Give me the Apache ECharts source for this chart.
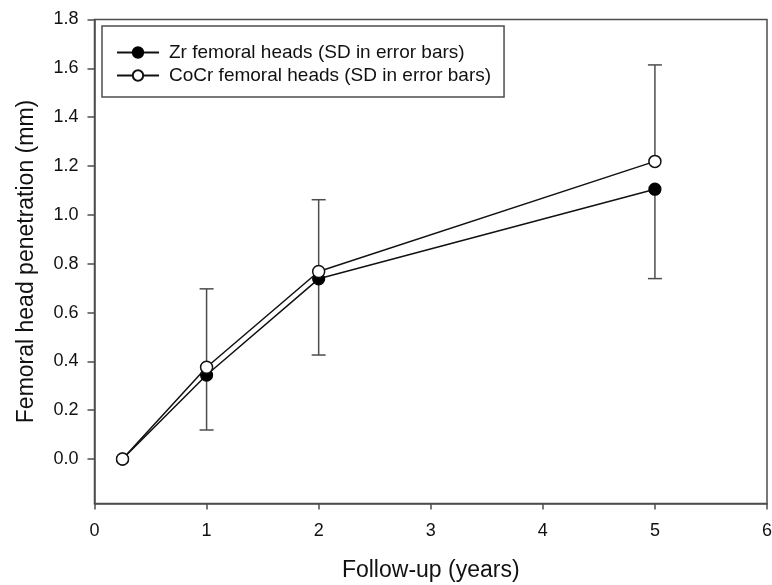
<!DOCTYPE html>
<html>
<head>
<meta charset="utf-8">
<script src="https://cdn.jsdelivr.net/npm/echarts@6/dist/echarts.min.js"></script>
<style>
  html, body { margin: 0; padding: 0; background: #fff; }
  #chart { width: 772px; height: 585px; }
</style>
</head>
<body>
<div id="chart"></div>
<script>
// Follow-up time points (years)
const years = [0.25, 1, 2, 5];
// Mean femoral head penetration (mm)
const zrMean = [0, 0.344, 0.738, 1.105];
const cocrMean = [0, 0.376, 0.768, 1.219];
// Standard deviations: Zr drawn below its mean, CoCr above its mean
const zrSD = [0, 0.225, 0.312, 0.366];
const cocrSD = [0, 0.321, 0.294, 0.395];
// Axis tick values
const xTicks = [0, 1, 2, 3, 4, 5, 6];
const yTicks = [0, 0.2, 0.4, 0.6, 0.8, 1.0, 1.2, 1.4, 1.6, 1.8];

const seriesNames = ['Zr femoral heads (SD in error bars)', 'CoCr femoral heads (SD in error bars)'];

const FONT = '"Liberation Sans", Arial, Helvetica, sans-serif';
const AXIS_COLOR = '#4d4d4d';

const zrPoints = years.map((x, i) => [x, zrMean[i]]);
const cocrPoints = years.map((x, i) => [x, cocrMean[i]]);
// [x, from, to] segments for the error bars
const zrBars = years.map((x, i) => [x, zrMean[i], zrMean[i] - zrSD[i]]).filter((d, i) => zrSD[i] > 0);
const cocrBars = years.map((x, i) => [x, cocrMean[i], cocrMean[i] + cocrSD[i]]).filter((d, i) => cocrSD[i] > 0);

function renderErrorBar(params, api) {
  const x = api.value(0);
  const p0 = api.coord([x, api.value(1)]);
  const p1 = api.coord([x, api.value(2)]);
  const half = 7;
  const style = { stroke: AXIS_COLOR, lineWidth: 1.5 };
  return {
    type: 'group',
    children: [
      { type: 'line', shape: { x1: p0[0], y1: p0[1], x2: p1[0], y2: p1[1] }, style: style },
      { type: 'line', shape: { x1: p1[0] - half, y1: p1[1], x2: p1[0] + half, y2: p1[1] }, style: style }
    ]
  };
}

const chart = echarts.init(document.getElementById('chart'), null, { renderer: 'canvas' });

chart.setOption({
  backgroundColor: '#ffffff',
  animation: false,
  textStyle: { fontFamily: FONT },
  grid: {
    left: 94.5, right: 5, top: 19.5, bottom: 81.5,
    outerBoundsMode: 'none',
    containLabel: false,
    show: true, borderColor: AXIS_COLOR, borderWidth: 1.5, backgroundColor: 'transparent'
  },
  legend: {
    left: 102, top: 26,
    orient: 'vertical',
    data: seriesNames,
    backgroundColor: '#fff',
    borderColor: AXIS_COLOR, borderWidth: 1.5, borderRadius: 0,
    padding: [17, 13, 12, 14],
    itemGap: 4,
    itemWidth: 42, itemHeight: 13,
    textStyle: { fontFamily: FONT, fontSize: 19, color: '#111', padding: [0, 0, 0, 5] }
  },
  xAxis: {
    type: 'value',
    min: 0, max: 6, interval: 1,
    name: 'Follow-up (years)',
    nameLocation: 'middle',
    nameGap: 56,
    nameTextStyle: { fontFamily: FONT, fontSize: 23, color: '#111' },
    axisLine: { show: true, onZero: false, lineStyle: { color: AXIS_COLOR, width: 1.5 } },
    axisTick: { show: true, length: 6, lineStyle: { color: AXIS_COLOR, width: 1.5 }, customValues: xTicks },
    axisLabel: { fontFamily: FONT, fontSize: 18, color: '#111', margin: 19, customValues: xTicks },
    splitLine: { show: false }
  },
  yAxis: {
    type: 'value',
    min: -0.182, max: 1.8,
    name: 'Femoral head penetration (mm)',
    nameLocation: 'middle',
    nameGap: 56,
    nameTextStyle: { fontFamily: FONT, fontSize: 23, color: '#111' },
    axisLine: { show: true, onZero: false, lineStyle: { color: AXIS_COLOR, width: 1.5 } },
    axisTick: { show: true, length: 7, lineStyle: { color: AXIS_COLOR, width: 1.5 }, customValues: yTicks },
    axisLabel: {
      fontFamily: FONT, fontSize: 18, color: '#111', margin: 16,
      customValues: yTicks,
      formatter: v => v.toFixed(1)
    },
    splitLine: { show: false }
  },
  series: [
    {
      type: 'custom',
      name: 'zrBars',
      renderItem: renderErrorBar,
      data: zrBars,
      encode: { x: 0, y: [1, 2] },
      z: 1,
      silent: true
    },
    {
      type: 'custom',
      name: 'cocrBars',
      renderItem: renderErrorBar,
      data: cocrBars,
      encode: { x: 0, y: [1, 2] },
      z: 1,
      silent: true
    },
    {
      type: 'line',
      name: seriesNames[0],
      data: zrPoints,
      symbol: 'circle',
      symbolSize: 12,
      showAllSymbol: true,
      lineStyle: { color: '#111', width: 1.5 },
      itemStyle: { color: '#000', borderColor: '#000', borderWidth: 1.2 },
      z: 3
    },
    {
      type: 'line',
      name: seriesNames[1],
      data: cocrPoints,
      symbol: 'circle',
      symbolSize: 12,
      showAllSymbol: true,
      lineStyle: { color: '#111', width: 1.5 },
      itemStyle: { color: '#fff', borderColor: '#111', borderWidth: 1.5 },
      z: 4
    }
  ]
});
</script>
</body>
</html>
